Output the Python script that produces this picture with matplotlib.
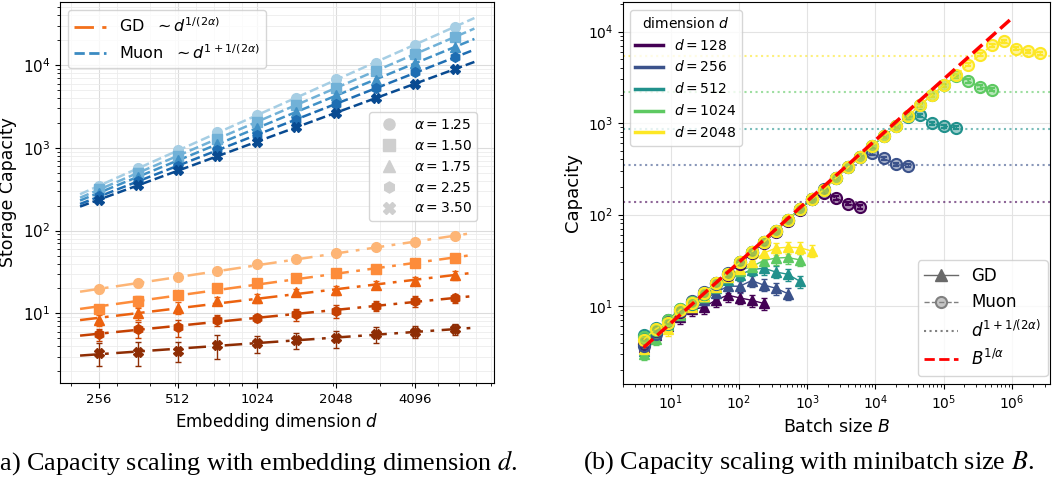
import numpy as np
import matplotlib.pyplot as plt
from matplotlib.lines import Line2D
from matplotlib.ticker import NullFormatter

plt.rcParams['font.family'] = 'DejaVu Sans'

# ---- (a) capacity vs embedding dimension ----
emb_dims = [256, 362, 512, 724, 1024, 1448, 2048, 2896, 4096, 5793]
emb_ticks = [256, 512, 1024, 2048, 4096]
alphas = [1.25, 1.5, 1.75, 2.25, 3.5]
alpha_markers = ["o", "s", "^", "h", "X"]

muon_a125 = [344, 564, 937, 1560, 2480, 4060, 6760, 10700, 17700, 28900]
muon_a150 = [316, 500, 800, 1290, 2080, 3300, 5300, 8400, 13800, 21900]
muon_a175 = [288, 450, 705, 1110, 1730, 2720, 4300, 6650, 10600, 16600]
muon_a225 = [262, 400, 610, 935, 1420, 2170, 3350, 5250, 8200, 12600]
muon_a350 = [233, 355, 538, 801, 1181, 1794, 2650, 4060, 5880, 8910]

gd_a125 = [19.5, 23, 27.7, 32.7, 39.1, 44.9, 53, 62.7, 73.3, 85.9]
gd_a150 = [11.2, 14.1, 16.9, 20.4, 23, 26.5, 30.4, 34.3, 40.2, 46.1]
gd_a175 = [8.3, 10, 11.7, 14.1, 15.2, 17.9, 19.1, 22, 24.8, 29]
gd_a225 = [5.6, 6.5, 6.8, 8.3, 8.9, 9.7, 10.7, 12.4, 14.1, 15.2]
gd_a350 = [3.34, 3.44, 3.53, 4.14, 4.35, 4.76, 4.99, 5.62, 6.0, 6.46]

gd_err_a125 = [2.0, 2.2, 1.5, 1.5, 1.6, 1.8, 2.0, 2.2, 2.0, 3.0]
gd_err_a150 = [1.3, 2.0, 1.5, 1.5, 1.4, 1.8, 1.6, 2.0, 2.6, 2.8]
gd_err_a175 = [1.3, 1.6, 2.0, 1.5, 2.0, 1.8, 2.2, 2.4, 2.8, 3.8]
gd_err_a225 = [0.9, 1.4, 1.6, 1.2, 1.0, 1.6, 1.8, 1.8, 2.2, 2.0]
gd_err_a350 = [1.0, 1.1, 0.95, 1.3, 1.0, 1.1, 1.2, 1.2, 1.0, 1.0]

muon_by_alpha = [muon_a125, muon_a150, muon_a175, muon_a225, muon_a350]
gd_by_alpha = [gd_a125, gd_a150, gd_a175, gd_a225, gd_a350]
gd_err_by_alpha = [gd_err_a125, gd_err_a150, gd_err_a175, gd_err_a225, gd_err_a350]

# ---- (b) capacity vs batch size ----
batch_sizes = [4, 6, 9, 13.5, 20.3, 30.4, 45.6, 68.3, 102.5, 153.8, 230.7, 346, 519,
               779, 1168, 1752, 2627, 3941, 5911, 8867, 13301, 19951, 29927, 44890,
               67336, 101004, 151506, 227259, 340888, 511333, 766999, 1150500,
               1725750, 2588620]
dims = [128, 256, 512, 1024, 2048]

muon_d128 = [3.9, 5.3, 6.8, 8.6, 11.2, 13.5, 18.0, 22.0, 29, 38, 49, 65, 86, 113, 149,
             172, 152, 131, 121]
muon_d256 = [3.7, 5.0, 7.0, 8.8, 11.5, 14.2, 17.5, 23, 30, 39, 50, 66, 88, 115, 148,
             190, 250, 327, 430, 465, 410, 356, 341]
muon_d512 = [4.8, 5.8, 6.4, 9.4, 10.6, 14.0, 17.9, 22.5, 30, 39, 50, 66, 88, 115, 148,
             187, 251, 327, 431, 560, 715, 927, 1150, 1213, 993, 927, 889]
muon_d1024 = [4.6, 5.5, 7.1, 9.2, 11.0, 13.6, 17.7, 22.7, 30, 39, 50, 66, 88, 115, 148,
              187, 251, 327, 431, 560, 715, 927, 1190, 1570, 2016, 2590, 3243, 2884,
              2483, 2324]
muon_d2048 = [4.3, 5.6, 6.6, 9.0, 10.9, 13.8, 17.7, 22.7, 30, 39, 50, 66, 88, 115, 148,
              187, 251, 327, 431, 560, 715, 927, 1190, 1570, 2016, 2590, 3330, 4345,
              5580, 7050, 7850, 6490, 6070, 5810]

gd_d128 = [3.6, 4.8, 6.0, 7.6, 9.2, 9.7, 11.6, 13.2, 12.3, 11.6, 10.7]
gd_d256 = [3.8, 5.0, 6.3, 8.0, 9.8, 11.8, 14.0, 16.5, 16.5, 19.0, 17.0, 15.7, 13.7]
gd_d512 = [3.2, 5.2, 6.6, 8.3, 10.5, 13.0, 15.8, 19.5, 22.0, 25.0, 26.0, 23.6, 22.3, 18.7]
gd_d1024 = [3.0, 4.4, 6.2, 8.1, 10.3, 12.6, 16.3, 21.0, 24.5, 27.0, 31.5, 33.5, 34.0, 32.0]
gd_d2048 = [3.4, 5.5, 5.6, 8.6, 9.8, 12.8, 16.2, 21.0, 25.5, 30.0, 38.0, 43.0, 44.0,
            43.5, 40.0]

sat_levels = [138, 345, 870, 2160, 5400]   # dotted d^{1+1/(2 alpha)} levels
gd_rel_err = 0.15
muon_rel_err = 0.04
alpha_b = 1.5
ref_coef = 1.4
ref_batch = [4, 1e6]

muon_by_dim = [muon_d128, muon_d256, muon_d512, muon_d1024, muon_d2048]
gd_by_dim = [gd_d128, gd_d256, gd_d512, gd_d1024, gd_d2048]


fig = plt.figure(figsize=(10.55, 4.79), dpi=100)
ax1 = fig.add_axes([0.0569, 0.2004, 0.4114, 0.7954])
ax2 = fig.add_axes([0.5905, 0.1983, 0.4047, 0.7975])

# ---------------- left panel ----------------
blues = plt.cm.Blues(np.linspace(0.35, 0.9, 5))
oranges = plt.cm.Oranges(np.linspace(0.35, 0.95, 5))
d = np.array(emb_dims, dtype=float)
d_fit = np.geomspace(d[0] / 1.18, d[-1] * 1.19, 50)

for i in range(len(alphas)):
    muon = np.array(muon_by_alpha[i])
    gd = np.array(gd_by_alpha[i])

    ax1.plot(d, muon, marker=alpha_markers[i], ls="none", color=blues[i], ms=7, zorder=3)
    pm = np.polyfit(np.log(d), np.log(muon), 1)
    ax1.plot(d_fit, np.exp(np.polyval(pm, np.log(d_fit))), "--", color=blues[i],
             lw=1.8, zorder=2)

    ax1.errorbar(d, gd, yerr=gd_err_by_alpha[i], marker=alpha_markers[i], ls="none",
                 color=oranges[i], ms=7, capsize=2, elinewidth=1, zorder=3)
    pg = np.polyfit(np.log(d), np.log(gd), 1)
    ax1.plot(d_fit, np.exp(np.polyval(pg, np.log(d_fit))), color=oranges[i],
             lw=1.8, dashes=(7, 3, 1.5, 3), zorder=2)

ax1.set_xscale("log")
ax1.set_yscale("log")
ax1.set_xlim(182, 8190)
ax1.set_ylim(1.44, 5.8e4)
ax1.set_xticks(emb_ticks)
ax1.set_xticklabels([str(t) for t in emb_ticks])
ax1.xaxis.set_minor_formatter(NullFormatter())
ax1.tick_params(axis="x", labelsize=9.5)
ax1.tick_params(axis="y", labelsize=11)
ax1.grid(True, which="major", color="#dcdcdc", lw=0.8)
ax1.grid(True, which="minor", color="#ececec", lw=0.6)
ax1.set_axisbelow(True)
ax1.set_xlabel("Embedding dimension $d$", fontsize=12)
ax1.set_ylabel("Storage Capacity", fontsize=12.5)

opt_handles = [Line2D([], [], color=plt.cm.Oranges(0.6), lw=2, dashes=(7, 3, 1.5, 3)),
               Line2D([], [], color=plt.cm.Blues(0.65), ls="--", lw=2)]
leg_opt = ax1.legend(opt_handles,
                     [r"GD  $\sim d^{1/(2\alpha)}$", r"Muon  $\sim d^{1+1/(2\alpha)}$"],
                     loc="upper left", bbox_to_anchor=(0.018, 0.979), borderaxespad=0,
                     fontsize=11.5)
ax1.add_artist(leg_opt)

alpha_handles = [Line2D([], [], marker=m, ls="none", color="#cfcfcf", ms=8)
                 for m in alpha_markers]
ax1.legend(alpha_handles, [rf"$\alpha = {a:.2f}$" for a in alphas],
           loc="upper right", bbox_to_anchor=(0.961, 0.711), borderaxespad=0,
           fontsize=10)

# ---------------- right panel ----------------
vir = plt.cm.viridis(np.linspace(0, 1, len(dims)))
B = np.array(batch_sizes, dtype=float)

for i in range(len(dims)):
    gd = np.array(gd_by_dim[i])
    ax2.errorbar(B[:len(gd)], gd, yerr=gd * gd_rel_err, fmt="^-", color=vir[i], ms=7.5,
                 lw=1, capsize=2.5, elinewidth=1, zorder=2)

for i in range(len(dims)):
    muon = np.array(muon_by_dim[i])
    face = (vir[i][0], vir[i][1], vir[i][2], 0.45)
    ax2.errorbar(B[:len(muon)], muon, yerr=muon * muon_rel_err, fmt="o--", color=vir[i],
                 mfc=face, mec=vir[i], mew=1.5, ms=8, lw=1, capsize=2, elinewidth=1,
                 zorder=3)
    ax2.axhline(sat_levels[i], color=vir[i], ls=":", lw=1.5, alpha=0.6, zorder=1)

rb = np.array(ref_batch)
ax2.plot(rb, ref_coef * rb ** (1 / alpha_b), color="red", ls="--", lw=2.5, zorder=4)

ax2.set_xscale("log")
ax2.set_yscale("log")
ax2.set_xlim(2.0, 3.6e6)
ax2.set_ylim(1.41, 2.1e4)
ax2.tick_params(labelsize=10)
ax2.grid(True, which="major", color="#e3e3e3", lw=0.8)
ax2.set_axisbelow(True)
ax2.set_xlabel("Batch size $B$", fontsize=12.5)
ax2.set_ylabel("Capacity", fontsize=13)

dim_handles = [Line2D([], [], color=c, lw=2.5) for c in vir]
leg_dim = ax2.legend(dim_handles, [rf"$d = {v}$" for v in dims], title="dimension $d$",
                     loc="upper left", bbox_to_anchor=(0.016, 0.979), borderaxespad=0,
                     fontsize=10, title_fontsize=10)
ax2.add_artist(leg_dim)

style_handles = [
    Line2D([], [], color="dimgray", marker="^", ls="-", ms=8, lw=1),
    Line2D([], [], color="gray", marker="o", ls="--", ms=8, lw=1,
           mfc=(0.5, 0.5, 0.5, 0.45), mec="gray", mew=1.5),
    Line2D([], [], color="gray", ls=":", lw=1.5),
    Line2D([], [], color="red", ls="--", lw=2),
]
ax2.legend(style_handles, ["GD", "Muon", r"$d^{1+1/(2\alpha)}$", r"$B^{1/\alpha}$"],
           loc="lower right", bbox_to_anchor=(0.995, 0.021), borderaxespad=0, fontsize=12)

# captions
fig.text(0.241, 0.035, "(a) Capacity scaling with embedding dimension $d$.",
         ha="center", va="center", fontsize=18.8, family="Liberation Serif",
         math_fontfamily="stix")
fig.text(0.766, 0.035, "(b) Capacity scaling with minibatch size $B$.",
         ha="center", va="center", fontsize=18.8, family="Liberation Serif",
         math_fontfamily="stix")

fig.savefig("out.png", dpi=100)
